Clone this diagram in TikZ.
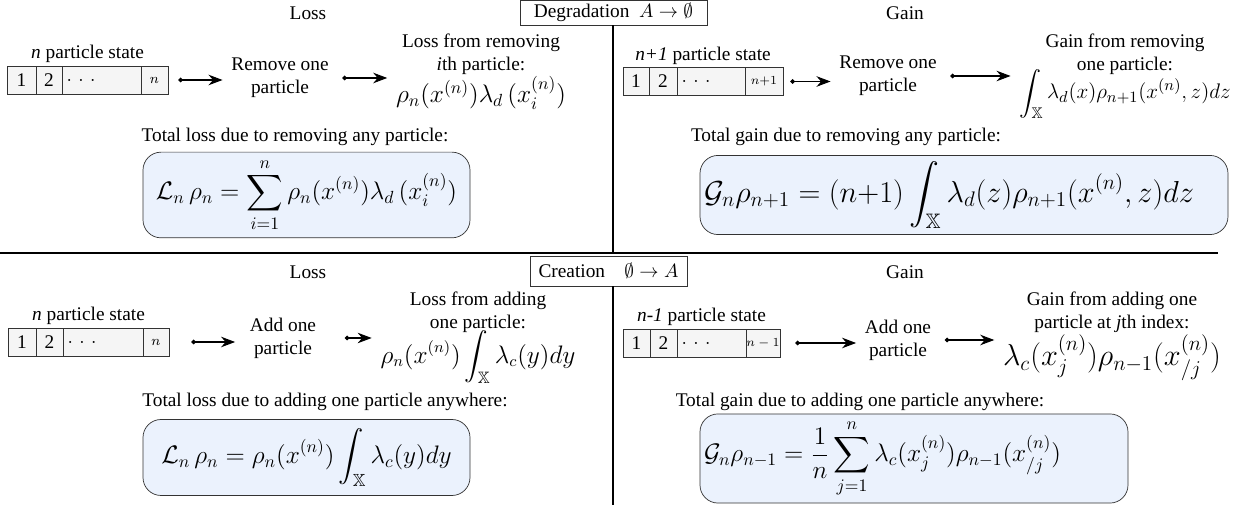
\documentclass[tikz,border=0pt]{standalone}
\usepackage{amsmath,amssymb}
\usepackage{fontspec}
\setmainfont{Liberation Serif}
\usetikzlibrary{positioning,arrows.meta,fit}
\definecolor{totfill}{RGB}{235,242,253}

\begin{document}
\begin{tikzpicture}[
    font=\fontsize{11}{13}\selectfont,
    cell/.style={
        draw=black!80,
        fill=gray!8,
        thin,
        minimum height=0.56cm,
        inner sep=0pt,
        outer sep=0pt
    },
    dotcell/.style={cell, text width=#1, inner xsep=0.09cm, align=left},
    action/.style={align=center, inner sep=2pt},
    result/.style={align=center, inner sep=2pt, anchor=north},
    total/.style={
        draw=black!80,
        fill=totfill,
        rounded corners=0.36cm,
        minimum height=1.52cm,
        inner xsep=0.08cm,
        font=\Large
    },
    heading/.style={draw=black!80, fill=white, inner sep=0pt},
    divider/.style={line width=1pt},
    flow/.style={{Circle[length=2.6pt]}-{Stealth[length=8pt,width=6pt]}, semithick, shorten <=0.2cm, shorten >=0.1cm}
]
\useasboundingbox (0,0) rectangle (24.96,-10.2);

% headings and dividers
\node[heading, minimum width=3.74cm, minimum height=0.5cm] (dtitle) at (12.27,-0.25) {Degradation\enspace$A\to\emptyset$};
\node[heading, minimum width=3.14cm, minimum height=0.6cm] (ctitle) at (12.17,-5.42) {Creation\quad$\emptyset\to A$};
\coordinate (split) at (12.26,-5.06);
\coordinate (splitl) at (0,-5.06);
\coordinate (splitr) at (24.36,-5.06);
\coordinate (bottom) at (12.26,-10.1);
\draw[divider] (splitl) -- (splitr);
\draw[divider] (dtitle.south -| split) -- (split);
\draw[divider] (ctitle.south -| split) -- (bottom);

\node (dloss) at (6.16,-0.26) {Loss};
\node (dgain) at (18.1,-0.26) {Gain};
\node (closs) at (6.16,-5.44) {Loss};
\node (cgain) at (18.1,-5.44) {Gain};

% degradation, loss
\node[cell, minimum width=0.58cm, anchor=west] (dl1) at (0.14,-1.6) {1};
\node[cell, minimum width=0.52cm, right=0pt of dl1] (dl2) {2};
\node[dotcell=1.4cm, right=0pt of dl2] (dl3) {$.\ .\ .$};
\node[cell, minimum width=0.54cm, right=0pt of dl3] (dl4) {\footnotesize$n$};
\node[fit=(dl1)(dl4), inner sep=0pt, label={[label distance=-2pt]above:\textit{n} particle state}] (dlstate) {};
\node[action] (dlrem) at (5.6,-1.56) {Remove one\\particle};
\node[result] (dlres) at (9.62,-0.6) {Loss from removing\\\textit{i}th particle:\\{\Large$\rho_n(x^{(n)})\lambda_d\,(x_i^{(n)})$}};
\node (dltot) at (5.9,-2.74) {Total loss due to removing any particle:};
\node[total, minimum width=6.54cm] (dlbox) at (6.13,-3.9) {$\displaystyle\mathcal{L}_n\,\rho_n = \sum_{i=1}^{n}\rho_n(x^{(n)})\lambda_d\,(x_i^{(n)})$};
\draw[flow] (dlstate.east) -- (dlstate.east -| dlrem.west);
\draw[flow] (dlrem.east) -- (dlrem.east -| dlres.west);

% degradation, gain
\node[cell, minimum width=0.52cm, anchor=west] (dg1) at (12.46,-1.63) {1};
\node[cell, minimum width=0.56cm, right=0pt of dg1] (dg2) {2};
\node[dotcell=1.18cm, right=0pt of dg2] (dg3) {$.\ .\ .$};
\node[cell, minimum width=0.76cm, right=0pt of dg3] (dg4) {\scriptsize$n{+}1$};
\node[fit=(dg1)(dg4), inner sep=0pt, label={[label distance=-2pt]above:\textit{n+1} particle state}] (dgstate) {};
\node[action] (dgrem) at (17.76,-1.52) {Remove one\\particle};
\node[result] (dgres) at (22.5,-0.6) {Gain from removing\\one particle:\\[-4pt]{\fontsize{12.5}{15}\selectfont$\displaystyle\int_{\mathbb{X}}\lambda_d(x)\rho_{n+1}(x^{(n)},z)dz$}};
\node (dgtot) at (16.92,-2.74) {Total gain due to removing any particle:};
\node[total, text width=10.4cm, align=left, font=\fontsize{17}{21}\selectfont] (dgbox) at (19.28,-3.9) {$\displaystyle\mathcal{G}_n\rho_{n+1} = (n{+}1)\int_{\mathbb{X}}\lambda_d(z)\rho_{n+1}(x^{(n)},z)dz$};
\draw[flow, shorten <=0.14cm] (dgstate.east) -- (dgstate.east -| dgrem.west);
\draw[flow] (dgrem.east) -- (dgrem.east -| dgres.west);

% creation, loss
\node[cell, minimum width=0.56cm, anchor=west] (cl1) at (0.16,-6.84) {1};
\node[cell, minimum width=0.54cm, right=0pt of cl1] (cl2) {2};
\node[dotcell=1.42cm, right=0pt of cl2] (cl3) {$.\ .\ .$};
\node[cell, minimum width=0.52cm, right=0pt of cl3] (cl4) {\footnotesize$n$};
\node[fit=(cl1)(cl4), inner sep=0pt, label={[label distance=-2pt]above:\textit{n} particle state}] (clstate) {};
\node[action] (clrem) at (5.66,-6.76) {Add one\\particle};
\node[result] (clres) at (9.56,-5.76) {Loss from adding\\one particle:\\[-2pt]{\fontsize{13.4}{16}\selectfont$\displaystyle\rho_n(x^{(n)})\int_{\mathbb{X}}\lambda_c(y)dy$}};
\node (cltot) at (6.5,-8.04) {Total loss due to adding one particle anywhere:};
\node[total, minimum width=6.54cm] (clbox) at (6.13,-9.15) {$\displaystyle\mathcal{L}_n\,\rho_n = \rho_n(x^{(n)})\int_{\mathbb{X}}\lambda_c(y)dy$};
\draw[flow, shorten <=0.44cm, shorten >=0.22cm] (clstate.east) -- (clstate.east -| clrem.west);
\draw[flow, shorten <=0.5cm] (clrem.east) -- (clrem.east -| clres.west);

% creation, gain
\node[cell, minimum width=0.54cm, anchor=west] (cg1) at (12.46,-6.86) {1};
\node[cell, minimum width=0.54cm, right=0pt of cg1] (cg2) {2};
\node[dotcell=1.2cm, right=0pt of cg2] (cg3) {$.\ .\ .$};
\node[cell, minimum width=0.68cm, right=0pt of cg3] (cg4) {\scriptsize$n-1$};
\node[fit=(cg1)(cg4), inner sep=0pt, label={[label distance=-2pt]above:\textit{n-1} particle state}] (cgstate) {};
\node[action] (cgrem) at (17.96,-6.8) {Add one\\particle};
\node[result] (cgres) at (22.24,-5.76) {Gain from adding one\\particle at \textit{j}th index:\\{\fontsize{16.8}{20}\selectfont$\lambda_c(x_j^{(n)})\rho_{n-1}(x_{/j}^{(n)})$}};
\node (cgtot) at (17.2,-8.04) {Total gain due to adding one particle anywhere:};
\node[total, text width=8.4cm, align=left] (cgbox) at (18.28,-9.17) {$\displaystyle\mathcal{G}_n\rho_{n-1} = \frac{1}{n}\sum_{j=1}^{n}\lambda_c(x_j^{(n)})\rho_{n-1}(x_{/j}^{(n)})$};
\draw[flow, shorten <=0.3cm] (cgstate.east) -- (cgstate.east -| cgrem.west);
\draw[flow] (cgrem.east) -- (cgrem.east -| cgres.west);

\end{tikzpicture}
\end{document}
